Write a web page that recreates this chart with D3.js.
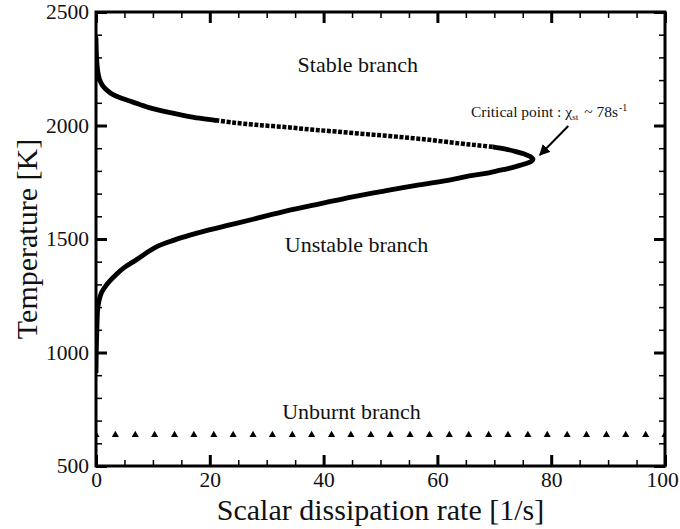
<!DOCTYPE html>
<html>
<head>
<meta charset="utf-8">
<script src="https://cdn.jsdelivr.net/npm/d3@7"></script>
<style>
    body { margin: 0; background: white; }
    svg { display: block; }
    text { font-family: "Liberation Serif", "Times New Roman", serif; fill: #111; }
</style>
</head>
<body>
<div id="chart"></div>
<script>
// Stable branch near the left axis (chi [1/s], T [K])
const stableTopChi = [0.0, 0.1, 0.3, 0.6, 1.1, 1.9, 3.0, 4.5, 6.5, 9.2, 12.4, 15.3, 18.2, 21.0];
const stableTopT   = [2385, 2300, 2240, 2205, 2178, 2156, 2136, 2120, 2103, 2080, 2060, 2045, 2032, 2023];

// Stable branch, sparse markers
const stableMidChi = [21.0, 24.0, 28.0, 32.8, 37.5, 42.3, 47.5, 52.8, 58.5, 63.9, 67.0, 69.7];
const stableMidT   = [2023, 2013, 2003, 1994, 1983, 1973, 1962, 1951, 1937, 1921, 1913, 1906];

// Turning point + unstable branch back to the axis
const unstableChi = [69.7, 72.0, 73.8, 75.3, 76.3, 76.8, 76.5, 75.6, 74.2, 72.6, 70.5, 68.5, 65.6, 62.7,
    56.8, 51.0, 45.1, 39.3, 33.5, 27.6, 23.5, 19.4, 16.5, 13.6, 10.6, 7.0, 5.0, 3.6, 1.9, 1.0, 0.55,
    0.3, 0.15, 0.05, 0.0];
const unstableT = [1906, 1896, 1885, 1874, 1863, 1851, 1842, 1833, 1822, 1811, 1800, 1789, 1778, 1763,
    1738, 1713, 1686, 1655, 1624, 1587, 1562, 1537, 1517, 1494, 1465, 1407, 1375, 1345, 1300, 1265, 1230,
    1190, 1100, 1000, 910];

// Unburnt branch
const unburntChi = [0, 3.4, 6.9, 10.3, 13.8, 17.2, 20.7, 24.1, 27.6, 31.0, 34.5, 37.9, 41.4, 44.8, 48.3,
    51.7, 55.2, 58.6, 62.1, 65.5, 69.0, 72.4, 75.9, 79.3, 82.8, 86.2, 89.7, 93.1, 96.6, 100];
const unburntT = 637;

// Axis ticks
const xTicks = [0, 20, 40, 60, 80, 100];
const xMinor = d3.range(0, 101, 5).filter(v => v % 20 !== 0);
const yTicks = [500, 1000, 1500, 2000, 2500];
const yMinor = d3.range(500, 2501, 100).filter(v => v % 500 !== 0);

const width = 680, height = 529;
const margin = { top: 12, right: 15, bottom: 63, left: 96 };
const serif = '"Liberation Serif", "Times New Roman", serif';

const svg = d3.select('#chart')
    .append('svg')
    .attr('width', width)
    .attr('height', height);

const x = d3.scaleLinear().domain([0, 100]).range([margin.left, width - margin.right]);
const y = d3.scaleLinear().domain([500, 2500]).range([height - margin.bottom, margin.top]);

const x0 = x.range()[0], x1 = x.range()[1];
const y0 = y.range()[0], y1 = y.range()[1];

svg.append('clipPath').attr('id', 'plotClip')
    .append('rect')
    .attr('x', x0).attr('y', y1)
    .attr('width', x1 - x0).attr('height', y0 - y1);

// Axes: ticks point inward on all four sides
function styleAxis(g, major) {
    g.attr('font-family', serif).attr('font-size', null);
    g.select('.domain').remove();
    g.selectAll('.tick line')
        .attr('stroke', '#000')
        .attr('stroke-width', major ? 3 : 1.5);
    g.selectAll('.tick text')
        .style('font-family', serif)
        .style('font-size', '21.5px')
        .attr('fill', '#111');
}

svg.append('g')
    .attr('transform', `translate(0,${y0})`)
    .call(d3.axisBottom(x).tickValues(xTicks).tickSize(-11).tickPadding(6).tickFormat(d3.format('d')))
    .call(g => styleAxis(g, true))
    // last label sits right at the page edge, keep it inside
    .call(g => g.selectAll('.tick text').filter(d => d === 100).attr('dx', -3));
svg.append('g')
    .attr('transform', `translate(0,${y0})`)
    .call(d3.axisBottom(x).tickValues(xMinor).tickSize(-6).tickFormat(''))
    .call(g => styleAxis(g, false));
svg.append('g')
    .attr('transform', `translate(0,${y1})`)
    .call(d3.axisTop(x).tickValues(xTicks).tickSize(-11).tickFormat(''))
    .call(g => styleAxis(g, true));
svg.append('g')
    .attr('transform', `translate(0,${y1})`)
    .call(d3.axisTop(x).tickValues(xMinor).tickSize(-6).tickFormat(''))
    .call(g => styleAxis(g, false));

svg.append('g')
    .attr('transform', `translate(${x0},0)`)
    .call(d3.axisLeft(y).tickValues(yTicks).tickSize(-11).tickPadding(7).tickFormat(d3.format('d')))
    .call(g => styleAxis(g, true));
svg.append('g')
    .attr('transform', `translate(${x0},0)`)
    .call(d3.axisLeft(y).tickValues(yMinor).tickSize(-6).tickFormat(''))
    .call(g => styleAxis(g, false));
svg.append('g')
    .attr('transform', `translate(${x1},0)`)
    .call(d3.axisRight(y).tickValues(yTicks).tickSize(-11).tickFormat(''))
    .call(g => styleAxis(g, true));
svg.append('g')
    .attr('transform', `translate(${x1},0)`)
    .call(d3.axisRight(y).tickValues(yMinor).tickSize(-6).tickFormat(''))
    .call(g => styleAxis(g, false));

// Frame
svg.append('rect')
    .attr('x', x0).attr('y', y1)
    .attr('width', x1 - x0).attr('height', y0 - y1)
    .attr('fill', 'none')
    .attr('stroke', '#000')
    .attr('stroke-width', 3);

// S-curve
const line = d3.line()
    .x(d => x(d[0]))
    .y(d => y(d[1]))
    .curve(d3.curveCatmullRom.alpha(0.5));

const zip = (a, b) => a.map((v, i) => [v, b[i]]);

const curve = svg.append('g').attr('clip-path', 'url(#plotClip)');

curve.append('path')
    .datum(zip(stableTopChi, stableTopT))
    .attr('d', line)
    .attr('fill', 'none')
    .attr('stroke', '#000')
    .attr('stroke-width', 4.8)
    .attr('stroke-linecap', 'round');

// sparse part of the stable branch shows the individual markers
curve.append('path')
    .datum(zip(stableMidChi, stableMidT))
    .attr('d', line)
    .attr('fill', 'none')
    .attr('stroke', '#000')
    .attr('stroke-width', 4.5)
    .attr('stroke-dasharray', '4,1.6');

curve.append('path')
    .datum(zip(unstableChi, unstableT))
    .attr('d', line)
    .attr('fill', 'none')
    .attr('stroke', '#000')
    .attr('stroke-width', 4.8)
    .attr('stroke-linejoin', 'round');

// Unburnt branch markers
curve.selectAll('.unburnt')
    .data(unburntChi)
    .enter()
    .append('path')
    .attr('class', 'unburnt')
    .attr('transform', d => `translate(${x(d)},${y(unburntT)})`)
    .attr('d', d3.symbol(d3.symbolTriangle, 22))
    .attr('fill', '#000');

// Branch labels
const labels = [
    { text: 'Stable branch', chi: 46.0, T: 2237 },
    { text: 'Unstable branch', chi: 45.8, T: 1444 },
    { text: 'Unburnt branch', chi: 44.9, T: 706 }
];
svg.selectAll('.branch')
    .data(labels)
    .enter()
    .append('text')
    .attr('class', 'branch')
    .attr('x', d => x(d.chi))
    .attr('y', d => y(d.T))
    .attr('text-anchor', 'middle')
    .style('font-size', '22px')
    .text(d => d.text);

// Critical point annotation
const note = svg.append('text')
    .attr('x', x(65.9))
    .attr('y', y(2039))
    .style('font-size', '15.5px');
note.append('tspan').text('Critical point : χ');
note.append('tspan').attr('dy', 3).style('font-size', '9px').text('st');
note.append('tspan').attr('dy', -3).attr('dx', 6).text('~ 78s');
note.append('tspan').attr('dy', -6).attr('dx', 1).style('font-size', '10px').text('-1');

svg.append('defs').append('marker')
    .attr('id', 'arrow')
    .attr('viewBox', '0 0 10 10')
    .attr('refX', 9).attr('refY', 5)
    .attr('markerWidth', 11).attr('markerHeight', 11)
    .attr('markerUnits', 'userSpaceOnUse')
    .attr('orient', 'auto')
    .append('path')
    .attr('d', 'M0,0 L10,5 L0,10 z')
    .attr('fill', '#000');

svg.append('line')
    .attr('x1', x(83.0)).attr('y1', y(1998))
    .attr('x2', x(78.0)).attr('y2', y(1870))
    .attr('stroke', '#000')
    .attr('stroke-width', 2)
    .attr('marker-end', 'url(#arrow)');

// Axis titles
svg.append('text')
    .attr('x', (x0 + x1) / 2)
    .attr('y', 520)
    .attr('text-anchor', 'middle')
    .style('font-size', '30px')
    .text('Scalar dissipation rate [1/s]');

svg.append('text')
    .attr('transform', `translate(37,${(y0 + y1) / 2}) rotate(-90)`)
    .attr('text-anchor', 'middle')
    .style('font-size', '30px')
    .text('Temperature [K]');
</script>
</body>
</html>
